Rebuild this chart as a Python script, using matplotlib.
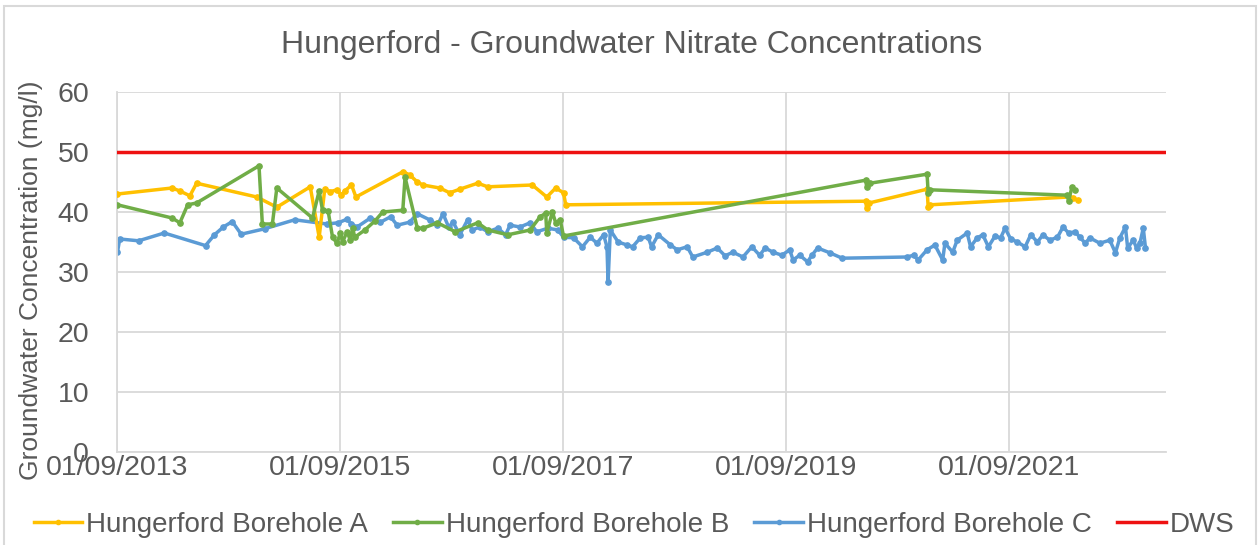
import matplotlib
matplotlib.use('Agg')
import matplotlib.pyplot as plt
import matplotlib.dates as mdates
import matplotlib.font_manager as fm
from matplotlib.patches import Rectangle
from datetime import datetime, timedelta

for fc in ['Liberation Sans', 'Arial', 'DejaVu Sans']:
    if any(f.name == fc for f in fm.fontManager.ttflist):
        plt.rcParams['font.family'] = fc
        break

# dates as decimal years
a_year = [2013.67, 2014.16, 2014.23, 2014.32, 2014.38, 2014.92, 2015.10, 2015.40,
          2015.48, 2015.53, 2015.58, 2015.64, 2015.68, 2015.71, 2015.77, 2015.81,
          2016.23, 2016.29, 2016.36, 2016.41, 2016.56, 2016.65, 2016.74, 2016.90,
          2016.99, 2017.39, 2017.52, 2017.60, 2017.67, 2017.69, 2020.38, 2020.39,
          2020.41, 2020.93, 2020.94, 2020.96, 2022.20, 2022.24, 2022.28]
a_val = [43.0, 44.0, 43.5, 42.7, 44.8, 42.5, 40.8, 44.2,
         35.8, 43.8, 43.4, 43.7, 42.8, 43.5, 44.5, 42.5,
         46.7, 46.2, 45.0, 44.5, 44.0, 43.2, 43.8, 44.8,
         44.2, 44.5, 42.5, 44.0, 43.2, 41.2, 41.8, 40.6,
         41.5, 43.8, 40.8, 41.2, 42.5, 42.3, 42.0]

b_year = [2013.67, 2014.16, 2014.23, 2014.30, 2014.38, 2014.94, 2014.97, 2015.06,
          2015.10, 2015.42, 2015.48, 2015.51, 2015.56, 2015.60, 2015.64, 2015.67,
          2015.69, 2015.73, 2015.76, 2015.78, 2015.80, 2015.89, 2015.98, 2016.05,
          2016.23, 2016.25, 2016.36, 2016.41, 2016.54, 2016.70, 2016.90, 2016.99,
          2017.17, 2017.37, 2017.46, 2017.51, 2017.52, 2017.57, 2017.60, 2017.64,
          2017.67, 2020.38, 2020.39, 2020.42, 2020.93, 2020.94, 2020.96, 2022.19,
          2022.20, 2022.23, 2022.26]
b_val = [41.2, 39.0, 38.2, 41.2, 41.5, 47.7, 38.0, 38.0,
         44.0, 39.0, 43.5, 40.3, 40.2, 35.8, 34.8, 36.5,
         35.0, 36.7, 35.3, 37.3, 35.8, 37.0, 38.5, 40.0,
         40.3, 45.8, 37.3, 37.3, 38.2, 36.7, 38.2, 37.0,
         36.2, 37.0, 39.2, 39.8, 36.5, 40.0, 38.2, 38.7,
         36.0, 45.3, 44.2, 44.8, 46.3, 43.2, 43.7, 42.8,
         41.8, 44.2, 43.7]

c_year = [2013.67, 2013.69, 2013.86, 2014.09, 2014.46, 2014.54, 2014.62, 2014.70,
          2014.78, 2014.99, 2015.26, 2015.55, 2015.65, 2015.73, 2015.77, 2015.82,
          2015.94, 2016.03, 2016.12, 2016.18, 2016.29, 2016.36, 2016.47, 2016.54,
          2016.59, 2016.64, 2016.68, 2016.74, 2016.81, 2016.85, 2016.92, 2016.99,
          2017.08, 2017.15, 2017.19, 2017.28, 2017.37, 2017.43, 2017.53, 2017.62,
          2017.67, 2017.76, 2017.84, 2017.91, 2017.97, 2018.03, 2018.06, 2018.07,
          2018.09, 2018.16, 2018.24, 2018.29, 2018.36, 2018.43, 2018.46, 2018.52,
          2018.63, 2018.69, 2018.78, 2018.83, 2018.96, 2019.05, 2019.12, 2019.19,
          2019.28, 2019.36, 2019.43, 2019.48, 2019.55, 2019.63, 2019.70, 2019.73,
          2019.79, 2019.86, 2019.90, 2019.95, 2020.06, 2020.17, 2020.75, 2020.81,
          2020.85, 2020.93, 2021.00, 2021.07, 2021.09, 2021.16, 2021.20, 2021.29,
          2021.32, 2021.38, 2021.43, 2021.48, 2021.54, 2021.59, 2021.63, 2021.68,
          2021.74, 2021.81, 2021.86, 2021.92, 2021.97, 2022.03, 2022.10, 2022.15,
          2022.20, 2022.26, 2022.30, 2022.35, 2022.39, 2022.48, 2022.57, 2022.62,
          2022.66, 2022.71, 2022.73, 2022.78, 2022.81, 2022.84, 2022.87, 2022.89]
c_val = [33.3, 35.5, 35.2, 36.5, 34.4, 36.2, 37.5, 38.4,
         36.3, 37.2, 38.7, 38.0, 38.2, 38.8, 38.0, 37.5,
         39.0, 38.3, 39.2, 37.8, 38.3, 39.7, 38.7, 37.8,
         39.7, 37.5, 38.3, 36.2, 38.7, 37.0, 37.5, 36.7,
         37.3, 36.2, 37.8, 37.5, 38.2, 36.7, 37.3, 37.0,
         35.8, 35.7, 34.2, 35.8, 34.8, 36.2, 34.2, 28.3,
         37.0, 35.0, 34.5, 34.2, 35.7, 35.8, 34.2, 36.2,
         34.5, 33.7, 34.2, 32.5, 33.3, 34.0, 32.7, 33.3,
         32.5, 34.2, 32.8, 34.0, 33.3, 32.8, 33.7, 32.0,
         32.8, 31.7, 32.8, 34.0, 33.2, 32.3, 32.5, 32.8,
         32.0, 33.7, 34.5, 32.0, 34.8, 33.3, 35.3, 36.5,
         34.2, 35.7, 36.2, 34.2, 36.0, 35.7, 37.3, 35.5,
         35.0, 34.2, 36.2, 35.0, 36.2, 35.3, 35.8, 37.5,
         36.5, 36.7, 35.8, 34.8, 35.7, 34.8, 35.3, 33.2,
         35.7, 37.5, 34.0, 35.3, 34.0, 34.8, 37.3, 34.0]

dws_dates = ['2013-09-01', '2023-01-28']
dws_val = [50, 50]

x_ticks = ['2013-09-01', '2015-09-01', '2017-09-01', '2019-09-01', '2021-09-01']
x_range = ['2013-09-01', '2023-01-28']
y_ticks = [0, 10, 20, 30, 40, 50, 60]


def to_date(y):
    yr = int(y)
    start = datetime(yr, 1, 1)
    days = (datetime(yr + 1, 1, 1) - start).days
    return start + timedelta(days=(y - yr) * days)


def parse(s):
    return datetime.strptime(s, '%Y-%m-%d')


grey = '#595959'
fig = plt.figure(figsize=(12.59, 5.45), dpi=100)
ax = fig.add_axes([117 / 1259, 1 - 452 / 545, (1166 - 117) / 1259, (452 - 92) / 545])

lw = 2.5
ms = 3.8
ax.plot([to_date(v) for v in a_year], a_val, '-o', color='#FFC000', lw=lw, ms=ms,
        label='Hungerford Borehole A', zorder=3)
ax.plot([to_date(v) for v in b_year], b_val, '-o', color='#70AD47', lw=lw, ms=ms,
        label='Hungerford Borehole B', zorder=4)
ax.plot([to_date(v) for v in c_year], c_val, '-o', color='#5B9BD5', lw=lw, ms=ms,
        label='Hungerford Borehole C', zorder=2)
ax.plot([parse(d) for d in dws_dates], dws_val, '-', color='#EE1111', lw=2.5,
        label='DWS', zorder=5)

ax.set_xlim(parse(x_range[0]), parse(x_range[1]))
ax.set_ylim(0, 60)
ax.set_yticks(y_ticks)
ax.set_xticks([parse(d) for d in x_ticks])
ax.xaxis.set_major_formatter(mdates.DateFormatter('%d/%m/%Y'))
ax.grid(True, color='#D9D9D9', lw=1.3, zorder=0)
ax.set_axisbelow(True)
for s in ['top', 'right']:
    ax.spines[s].set_visible(False)
for s in ['left', 'bottom']:
    ax.spines[s].set_color('#D9D9D9')
    ax.spines[s].set_linewidth(1.3)
ax.tick_params(axis='y', length=0, pad=20, labelsize=20.5, labelcolor=grey)
ax.tick_params(axis='x', length=0, pad=2, labelsize=20.5, labelcolor=grey)
ax.set_ylabel('Groundwater Concentration (mg/l)', fontsize=19, color=grey)
ax.yaxis.set_label_coords(-0.0705, 0.478)

fig.text(632 / 1259, 1 - 45 / 545, 'Hungerford - Groundwater Nitrate Concentrations',
         ha='center', va='center', fontsize=23, color=grey)

fig.legend(loc='center', bbox_to_anchor=(634 / 1259, 1 - 525 / 545), ncol=4,
           frameon=False, fontsize=20, handlelength=1.75, handletextpad=0.15,
           columnspacing=0.9, labelcolor=grey, markerscale=0.8)

fig.patches.append(Rectangle((4 / 1259, -0.05), 1252 / 1259, 1.05 - 6 / 545,
                             transform=fig.transFigure, fill=False,
                             edgecolor='#D9D9D9', lw=1.5))

fig.savefig('out.png', dpi=100)
